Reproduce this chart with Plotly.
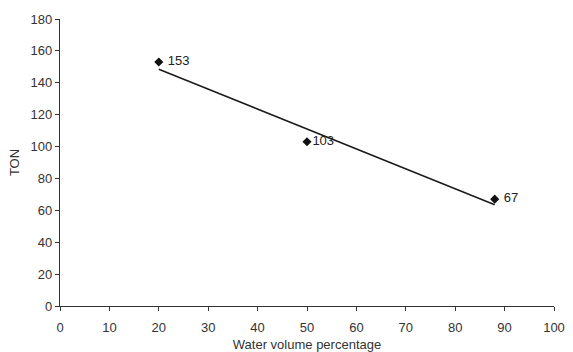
import numpy as np
import plotly.graph_objects as go

water_pct = [20, 50, 88]
ton = [153, 103, 67]
labels = ["153", "103", "67"]

coef = np.polyfit(water_pct, ton, 1)
trend_x = [min(water_pct), max(water_pct)]
trend_y = list(np.polyval(coef, trend_x))

FONT = "Liberation Sans, Arial"
display_text = [" " + labels[0], labels[1], " " + labels[2]]

fig = go.Figure()
fig.add_trace(go.Scatter(x=trend_x, y=trend_y, mode="lines",
                         line=dict(color="#1a1a1a", width=1.5), showlegend=False, hoverinfo="skip"))
fig.add_trace(go.Scatter(x=water_pct, y=ton, mode="markers+text", text=display_text,
                         textposition=["middle right", "middle right", "middle right"],
                         textfont=dict(family=FONT, size=13, color="#222"),
                         marker=dict(symbol="diamond", size=7, color="#111"), showlegend=False,
                         cliponaxis=False))

axis_common = dict(showgrid=False, zeroline=False, showline=True, linecolor="#333", linewidth=1.2,
                   ticks="outside", ticklen=4, tickcolor="#333", automargin=False,
                   tickfont=dict(family=FONT, size=13, color="#333"))
fig.update_xaxes(range=[0, 100], dtick=10, ticklabelstandoff=5, **axis_common,
                 title=dict(text="Water volume percentage", standoff=6,
                            font=dict(family=FONT, size=13, color="#333")))
fig.update_yaxes(range=[0, 180], dtick=20, **axis_common,
                 title=dict(text="TON", standoff=8,
                            font=dict(family=FONT, size=13, color="#333")))
fig.update_layout(width=573, height=352, margin=dict(l=60, r=19, t=19, b=46, autoexpand=False),
                  plot_bgcolor="white", paper_bgcolor="white")
fig.write_html("out.html", config={"displayModeBar": False},
               post_script="document.body.style.margin='0';")
